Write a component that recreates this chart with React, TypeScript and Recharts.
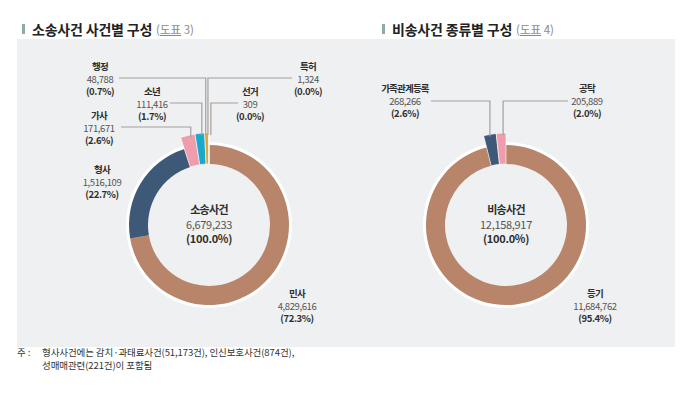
import { Cell, Pie, PieChart } from 'recharts'

// 소송사건 (도표 3)
const LIT_NAMES = ['민사', '형사', '가사', '소년', '행정', '선거', '특허']
const LIT_VALUES = [4829616, 1516109, 171671, 111416, 48788, 309, 1324]
const LIT_SHARES = ['72.3%', '22.7%', '2.6%', '1.7%', '0.7%', '0.0%', '0.0%']
const LIT_TOTAL = { name: '소송사건', value: 6679233, share: '100.0%' }

// 비송사건 (도표 4)
const NONLIT_NAMES = ['등기', '가족관계등록', '공탁']
const NONLIT_VALUES = [11684762, 268266, 205889]
const NONLIT_SHARES = ['95.4%', '2.6%', '2.0%']
const NONLIT_TOTAL = { name: '비송사건', value: 12158917, share: '100.0%' }

const NOTE_LINES = [
  '형사사건에는 감치·과태료사건(51,173건), 인신보호사건(874건),',
  '성매매관련(221건)이 포함됨',
]

const COLORS: Record<string, string> = {
  민사: '#b8846a',
  형사: '#3e5878',
  가사: '#ef9cac',
  소년: '#1aa8cb',
  행정: '#e8a236',
  선거: '#d9b36a',
  특허: '#e8a236',
  등기: '#b8846a',
  가족관계등록: '#3e5878',
  공탁: '#ef9cac',
}
// slices that stay inside the ring; the others stick out
const BIG = ['민사', '형사', '등기']

const FONT = '"Noto Sans CJK KR", "Noto Sans", sans-serif'
const DARK = '#2e2e2e'
const GREY = '#555'
const LINE = '#a5a09d'

interface Callout {
  x: number
  y: number
  line?: { y: number; endX: number; dx: number }
}

const LIT_CALLOUTS: Record<string, Callout> = {
  민사: { x: 297, y: 293 },
  형사: { x: 102, y: 169 },
  가사: { x: 99, y: 115, line: { y: 127, endX: 121, dx: 3 } },
  소년: { x: 152, y: 91, line: { y: 103, endX: 170, dx: 2 } },
  행정: { x: 100, y: 66, line: { y: 78, endX: 119, dx: -1 } },
  선거: { x: 250, y: 91, line: { y: 103, endX: 238, dx: 2 } },
  특허: { x: 308, y: 66, line: { y: 78, endX: 292, dx: -1 } },
}

const NONLIT_CALLOUTS: Record<string, Callout> = {
  등기: { x: 595, y: 293 },
  가족관계등록: { x: 405, y: 88, line: { y: 101, endX: 431, dx: 0 } },
  공탁: { x: 587, y: 88, line: { y: 101, endX: 568, dx: 2 } },
}

type Total = { name: string; value: number; share: string }

const toRows = (names: string[], values: number[]) =>
  names.map((name, i) => ({ name, value: values[i] }))

const litData = toRows(LIT_NAMES, LIT_VALUES)
const nonlitData = toRows(NONLIT_NAMES, NONLIT_VALUES)

const fmt = (v: number) => v.toLocaleString('en-US')

function TextBlock({ x, y, lines, size, gap, weights, spacing }: {
  x: number
  y: number
  lines: string[]
  size: number
  gap: number
  weights: number[]
  spacing: number
}) {
  return (
    <>
      {lines.map((t, i) => (
        <text
          key={i}
          x={x}
          y={y + i * gap}
          textAnchor="middle"
          dominantBaseline="central"
          fontFamily={FONT}
          fontSize={size}
          fontWeight={weights[i]}
          fill={weights[i] > 400 ? DARK : GREY}
          letterSpacing={i === 0 ? spacing - 0.4 : spacing}
        >
          {t}
        </text>
      ))}
    </>
  )
}

function makeCallout(callouts: Record<string, Callout>, shares: string[], total: Total) {
  return (props: any) => {
    const { cx, cy, midAngle, outerRadius, name, value, index } = props
    const c = callouts[name]
    if (!c) return null
    const rad = (-midAngle * Math.PI) / 180
    const r = BIG.includes(name) ? outerRadius - 12 : outerRadius
    const px = cx + r * Math.cos(rad) + (c.line?.dx ?? 0)
    const py = cy + r * Math.sin(rad)
    return (
      <g key={`callout-${name}`}>
        {c.line && (
          <polyline
            points={`${c.line.endX},${c.line.y} ${px},${c.line.y} ${px},${py + 2}`}
            fill="none"
            stroke={LINE}
            strokeWidth={1.2}
          />
        )}
        <TextBlock
          x={c.x}
          y={c.y}
          lines={[name, fmt(value), `(${shares[index]})`]}
          size={9.5}
          gap={12.5}
          weights={[700, 400, 700]}
          spacing={-0.4}
        />
        {index === 0 && (
          <TextBlock
            x={cx}
            y={cy - 16}
            lines={[total.name, fmt(total.value), `(${total.share})`]}
            size={11}
            gap={14.5}
            weights={[700, 400, 700]}
            spacing={-0.3}
          />
        )}
      </g>
    )
  }
}

function Donut({ data, cx, cy, callouts, shares, total }: {
  data: { name: string; value: number }[]
  cx: number
  cy: number
  callouts: Record<string, Callout>
  shares: string[]
  total: Total
}) {
  return [
    <Pie
      key={`halo-${cx}`}
      data={[{ name: 'halo', value: 1 }]}
      dataKey="value"
      cx={cx}
      cy={cy}
      innerRadius={77}
      outerRadius={83}
      fill="#ffffff"
      stroke="none"
      isAnimationActive={false}
    />,
    <Pie
      key={`ring-${cx}`}
      data={data}
      dataKey="value"
      nameKey="name"
      cx={cx}
      cy={cy}
      startAngle={90}
      endAngle={-270}
      innerRadius={61}
      outerRadius={80}
      stroke="none"
      isAnimationActive={false}
    >
      {data.map((d) => (
        <Cell key={d.name} fill={BIG.includes(d.name) ? COLORS[d.name] : 'transparent'} />
      ))}
    </Pie>,
    <Pie
      key={`outer-${cx}`}
      data={data}
      dataKey="value"
      nameKey="name"
      cx={cx}
      cy={cy}
      startAngle={90}
      endAngle={-270}
      innerRadius={61}
      outerRadius={92}
      isAnimationActive={false}
      label={makeCallout(callouts, shares, total)}
      labelLine={false}
    >
      {data.map((d) => (
        <Cell
          key={d.name}
          fill={BIG.includes(d.name) ? 'transparent' : COLORS[d.name]}
          stroke={BIG.includes(d.name) ? 'none' : '#ffffff'}
          strokeWidth={0.6}
        />
      ))}
    </Pie>,
  ]
}

function Title({ x, text, tag }: { x: number; text: string; tag: string }) {
  return (
    <div style={{ position: 'absolute', left: x, top: 19, display: 'flex', alignItems: 'center', fontFamily: FONT, whiteSpace: 'nowrap' }}>
      <div style={{ width: 3, height: 10, background: '#8eaaa9', marginRight: 7 }} />
      <span style={{ fontSize: 14, fontWeight: 700, color: '#222', letterSpacing: -0.2 }}>{text}</span>
      <span style={{ fontSize: 11.5, color: '#8a8a8a', marginLeft: 4 }}>
        (<span style={{ textDecoration: 'underline' }}>도표</span> {tag})
      </span>
    </div>
  )
}

const noteStyle = {
  position: 'absolute' as const,
  fontFamily: FONT,
  fontSize: 9.5,
  color: '#333',
  lineHeight: '11px',
  letterSpacing: -0.1,
  whiteSpace: 'nowrap' as const,
}

export default function App() {
  return (
    <div style={{ position: 'absolute', left: 0, top: 0, width: 694, height: 395, background: '#ffffff', overflow: 'hidden' }}>
      <Title x={22} text="소송사건 사건별 구성" tag="3" />
      <Title x={382} text="비송사건 종류별 구성" tag="4" />
      <div style={{ position: 'absolute', left: 17, top: 39, width: 658, height: 308, background: '#eff0f1' }} />
      <div style={{ position: 'absolute', left: 0, top: 0 }}>
        <PieChart width={694} height={395} margin={{ top: 0, right: 0, bottom: 0, left: 0 }}>
          {Donut({ data: litData, cx: 209, cy: 225, callouts: LIT_CALLOUTS, shares: LIT_SHARES, total: LIT_TOTAL })}
          {Donut({ data: nonlitData, cx: 506, cy: 225, callouts: NONLIT_CALLOUTS, shares: NONLIT_SHARES, total: NONLIT_TOTAL })}
        </PieChart>
      </div>
      <div style={{ ...noteStyle, left: 17, top: 347 }}>주 :</div>
      {NOTE_LINES.map((line, i) => (
        <div key={i} style={{ ...noteStyle, left: 42, top: 347 + i * 13 }}>
          {line}
        </div>
      ))}
    </div>
  )
}
